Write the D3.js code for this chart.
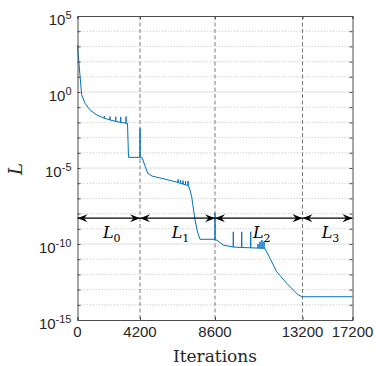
<!DOCTYPE html>
<html>
<head>
<meta charset="utf-8">
<script src="https://cdn.jsdelivr.net/npm/d3@7"></script>
<style>
body{margin:0;background:#fff;}
svg text{font-family:"Liberation Sans",Arial,sans-serif;}
</style>
</head>
<body>
<div id="chart"></div>
<script>
// x positions are in plot units; the axis is relabelled with the printed iteration counts
var xTicks=[0,2500,5500,9000,11000];
var xTickLabels=["0","4200","8600","13200","17200"];
var yTickExps=[5,0,-5,-10,-15];
var yMinorExps=[4,3,2,1,-1,-2,-3,-4,-6,-7,-8,-9,-11,-12,-13,-14];
var phaseBounds=[0,2500,5500,9000,11000];
var phaseNames=["0","1","2","3"];
var arrowLevel=-8.3;   // log10 L of the arrow row
var labelLevel=-9.6;   // log10 L of the L_k labels

// [plot x, log10 L], spikes included
var loss=[
 [0,3.09],[80,1.45],[168,-0.2],[300,-0.74],[500,-1.18],[740,-1.48],[1000,-1.68],
 [1072,-1.72],[1072,-1.6],[1073,-1.72],
 [1300,-1.84],[1300,-1.62],[1301,-1.84],
 [1528,-1.93],[1528,-1.63],[1529,-1.93],
 [1728,-2.0],[1728,-1.64],[1729,-2.0],
 [1940,-2.05],[1940,-1.62],[1941,-2.06],
 [2000,-2.07],[2040,-4.3],[2500,-4.3],[2500,-2.4],[2501,-4.32],
 [2590,-4.34],[2660,-4.67],[2808,-5.35],[2980,-5.53],[3368,-5.68],[3900,-5.9],
 [4020,-5.95],[4020,-5.75],[4021,-5.96],
 [4120,-6.0],[4120,-5.8],[4121,-6.01],
 [4220,-6.05],[4220,-5.83],[4221,-6.06],
 [4320,-6.1],[4320,-5.86],[4321,-6.11],
 [4420,-6.15],[4420,-5.85],[4432,-6.16],
 [4500,-6.45],[4568,-6.89],[4700,-8.42],[4800,-9.21],[4900,-9.69],[5500,-9.69],[5500,-7.96],[5501,-9.72],
 [5580,-9.75],[5832,-10.07],[6232,-10.2],[6232,-9.2],[6233,-10.2],
 [6568,-10.23],[6568,-9.2],[6569,-10.23],
 [6928,-10.25],[6928,-9.2],[6929,-10.25],
 [7220,-10.27],[7220,-10.0],[7221,-10.27],
 [7300,-10.27],[7300,-9.85],[7301,-10.27],
 [7380,-10.28],[7380,-9.75],[7381,-10.28],
 [7460,-10.28],[7460,-9.85],[7461,-10.28],
 [7500,-10.3],[7700,-10.94],[7968,-11.82],[8368,-12.59],[8832,-13.36],[8992,-13.47],
 [11000,-13.47]
];

var W=376,H=366;
var plot={left:77.5,right:352.5,top:16,bottom:320};
var line_color="#0072BD";
var axis_color="#4d4d4d";

var x=d3.scaleLinear().domain([0,11000]).range([plot.left,plot.right]);
var y=d3.scaleLog().domain([1e-15,1e5]).range([plot.bottom,plot.top]);

var mySvg=d3.select("#chart").append("svg").attr("width",W).attr("height",H);

mySvg.append("defs").append("marker").attr("id","arrow-head")
  .attr("viewBox","0 0 10 8").attr("refX",10).attr("refY",4)
  .attr("markerWidth",10).attr("markerHeight",8).attr("markerUnits","userSpaceOnUse")
  .attr("orient","auto-start-reverse")
  .append("path").attr("d","M0,0 L10,4 L0,8 L3.5,4 Z").attr("fill","#000");

//grid
var grid=mySvg.append("g").attr("class","grid");
grid.selectAll("line.minor").data(yMinorExps).enter().append("line").attr("class","minor")
  .attr("x1",plot.left).attr("x2",plot.right)
  .attr("y1",function(d){return y(Math.pow(10,d));}).attr("y2",function(d){return y(Math.pow(10,d));})
  .attr("stroke","#c8c8c8").attr("stroke-width",0.8).attr("stroke-dasharray","1.5,1.5");
grid.selectAll("line.major").data(yTickExps.filter(function(d){return d<5&&d>-15;})).enter()
  .append("line").attr("class","major")
  .attr("x1",plot.left).attr("x2",plot.right)
  .attr("y1",function(d){return y(Math.pow(10,d));}).attr("y2",function(d){return y(Math.pow(10,d));})
  .attr("stroke","#dedede").attr("stroke-width",1);

//phase separators
mySvg.append("g").selectAll("line").data(phaseBounds.slice(1,4)).enter().append("line")
  .attr("x1",function(d){return x(d);}).attr("x2",function(d){return x(d);})
  .attr("y1",plot.top).attr("y2",plot.bottom)
  .attr("stroke","#7a7a7a").attr("stroke-width",1).attr("stroke-dasharray","4,2.5");

//loss curve
var lineGen=d3.line().x(function(d){return x(d[0]);}).y(function(d){return y(Math.pow(10,d[1]));});
mySvg.append("path").datum(loss).attr("d",lineGen)
  .attr("fill","none").attr("stroke",line_color).attr("stroke-width",1);

//axes box
var yAxisL=d3.axisLeft(y).tickValues(yTickExps.concat(yMinorExps).map(function(d){return Math.pow(10,d);}))
  .tickSize(-3).tickFormat("");
var yAxisR=d3.axisRight(y).tickValues(yTickExps.concat(yMinorExps).map(function(d){return Math.pow(10,d);}))
  .tickSize(-3).tickFormat("");
var xAxisB=d3.axisBottom(x).tickValues(xTicks).tickSize(-3).tickFormat("");
var xAxisT=d3.axisTop(x).tickValues(xTicks).tickSize(-3).tickFormat("");
mySvg.append("g").attr("transform","translate("+plot.left+",0)").call(yAxisL);
mySvg.append("g").attr("transform","translate("+plot.right+",0)").call(yAxisR);
mySvg.append("g").attr("transform","translate(0,"+plot.bottom+")").call(xAxisB);
mySvg.append("g").attr("transform","translate(0,"+plot.top+")").call(xAxisT);
mySvg.selectAll(".domain").attr("stroke",axis_color).attr("stroke-width",1);
mySvg.selectAll(".tick line").attr("stroke",axis_color);

//tick labels
mySvg.append("g").selectAll("text").data(xTicks).enter().append("text")
  .attr("x",function(d){return x(d);}).attr("y",plot.bottom+17)
  .attr("text-anchor","middle").attr("font-size",15).attr("fill","#262626")
  .text(function(d,i){return xTickLabels[i];});
var yl=mySvg.append("g").selectAll("text").data(yTickExps).enter().append("text")
  .attr("x",plot.left-6).attr("y",function(d){return y(Math.pow(10,d))+9;})
  .attr("text-anchor","end").attr("font-size",15).attr("fill","#262626");
yl.append("tspan").text("10");
yl.append("tspan").attr("dy",-6).attr("font-size",11).text(function(d){return String(d);});

//axis titles
mySvg.append("text").attr("x",(plot.left+plot.right)/2).attr("y",362)
  .attr("text-anchor","middle").style("font-family","'DejaVu Serif',serif").attr("font-size",17)
  .attr("fill","#262626").text("Iterations");
mySvg.append("text").attr("transform","translate(22,169) rotate(-90)")
  .attr("text-anchor","middle").style("font-family","'DejaVu Serif',serif").attr("font-style","italic")
  .attr("font-size",18).attr("fill","#262626").text("L");

//phase arrows and labels
var phases=d3.range(phaseNames.length);
mySvg.append("g").selectAll("line").data(phases).enter().append("line")
  .attr("x1",function(i){return x(phaseBounds[i]);}).attr("x2",function(i){return x(phaseBounds[i+1]);})
  .attr("y1",y(Math.pow(10,arrowLevel))).attr("y2",y(Math.pow(10,arrowLevel)))
  .attr("stroke","#000").attr("stroke-width",1.1)
  .attr("marker-start","url(#arrow-head)").attr("marker-end","url(#arrow-head)");
var pl=mySvg.append("g").selectAll("text").data(phases).enter().append("text")
  .attr("x",function(i){return (x(phaseBounds[i])+x(phaseBounds[i+1]))/2+3;})
  .attr("y",y(Math.pow(10,labelLevel)))
  .attr("text-anchor","middle").style("font-family","'DejaVu Serif',serif").attr("fill","#000");
pl.append("tspan").attr("font-style","italic").attr("font-size",16).text("L");
pl.append("tspan").attr("dy",4).attr("font-size",11).text(function(i){return phaseNames[i];});
</script>
</body>
</html>
